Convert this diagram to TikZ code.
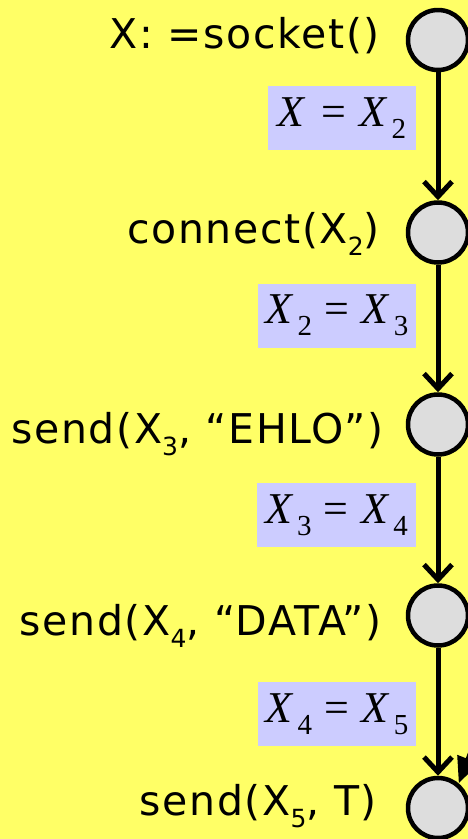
\documentclass[tikz,border=0pt]{standalone}
\usepackage{fontspec}
\setmainfont{DejaVu Sans}[LetterSpace=4]
\newfontfamily\eqfont{Liberation Serif}
\usetikzlibrary{arrows.meta}

\definecolor{bgyellow}{HTML}{FFFF66}
\definecolor{eqblue}{HTML}{CCCCFF}
\definecolor{stategray}{HTML}{DDDDDD}

% label text and its subscripts
\newcommand\lbl[1]{\fontsize{41}{41}\selectfont #1}
\newcommand\lsub[1]{\raisebox{-12pt}{\fontsize{25}{25}\selectfont #1}}
% equation in the blue boxes: X<#1> = X<#2>
\newcommand\eqsub[1]{\raisebox{-12pt}{\upshape\fontsize{29}{29}\selectfont #1}}
\newcommand\eqn[2]{{\eqfont\fontsize{44}{44}\selectfont\itshape X\hspace{5pt}#1\hspace{12pt}\upshape=\hspace{13pt}\itshape X\hspace{5pt}\eqsub{#2}}}

\begin{document}
\begin{tikzpicture}[x=1pt,y=-1pt,
  state/.style={circle, draw=black, line width=4.5pt, fill=stategray,
                minimum size=60pt, inner sep=0pt},
  flow/.style={line width=5pt, -{Straight Barb[length=15pt,width=28pt]}},
  eqbox/.style={fill=eqblue, inner sep=0pt, minimum height=64pt},
  call/.style={anchor=base east, inner sep=0pt}]
  \useasboundingbox (0,0) rectangle (468,839);
  \fill[bgyellow] (0,0) rectangle (468,839);
  \begin{scope}
    \clip (0,0) rectangle (468,839);

    % states
    \node[state] (s1) at (438,40) {};
    \node[state] (s2) at (438,232.5) {};
    \node[state] (s3) at (438,424.5) {};
    \node[state] (s4) at (438,615.5) {};
    \node[state] (s5) at (438,808) {};

    % transitions
    \draw[flow] (s1) -- (s2);
    \draw[flow] (s2) -- (s3);
    \draw[flow] (s3) -- (s4);
    \draw[flow] (s4) -- (s5);
    \coordinate (inc) at (495,690);
    \draw[line width=5pt, -{Triangle[length=26pt,width=22pt]}] (inc) -- (s5.50);

    % calls
    \node[call] (c1) at (380,48)  {\lbl{X: =socket()}};
    \node[call] (c2) at (380,243) {\lbl{connect(X\lsub{2})}};
    \node[call] (c3) at (384,443) {\lbl{send(X\lsub{3}, “EHLO”)}};
    \node[call] (c4) at (382,635) {\lbl{send(X\lsub{4}, “DATA”)}};
    \node[call] (c5) at (377,815) {\lbl{send(X\lsub{5}, T)}};

    % equalities
    \node[eqbox, minimum width=148pt] (e1) at (342,118)   {\eqn{}{2}};
    \node[eqbox, minimum width=158pt] (e2) at (337,315.5) {\eqn{\eqsub{2}}{3}};
    \node[eqbox, minimum width=159pt] (e3) at (336.5,515) {\eqn{\eqsub{3}}{4}};
    \node[eqbox, minimum width=158pt] (e4) at (337,714)   {\eqn{\eqsub{4}}{5}};
  \end{scope}
\end{tikzpicture}
\end{document}
